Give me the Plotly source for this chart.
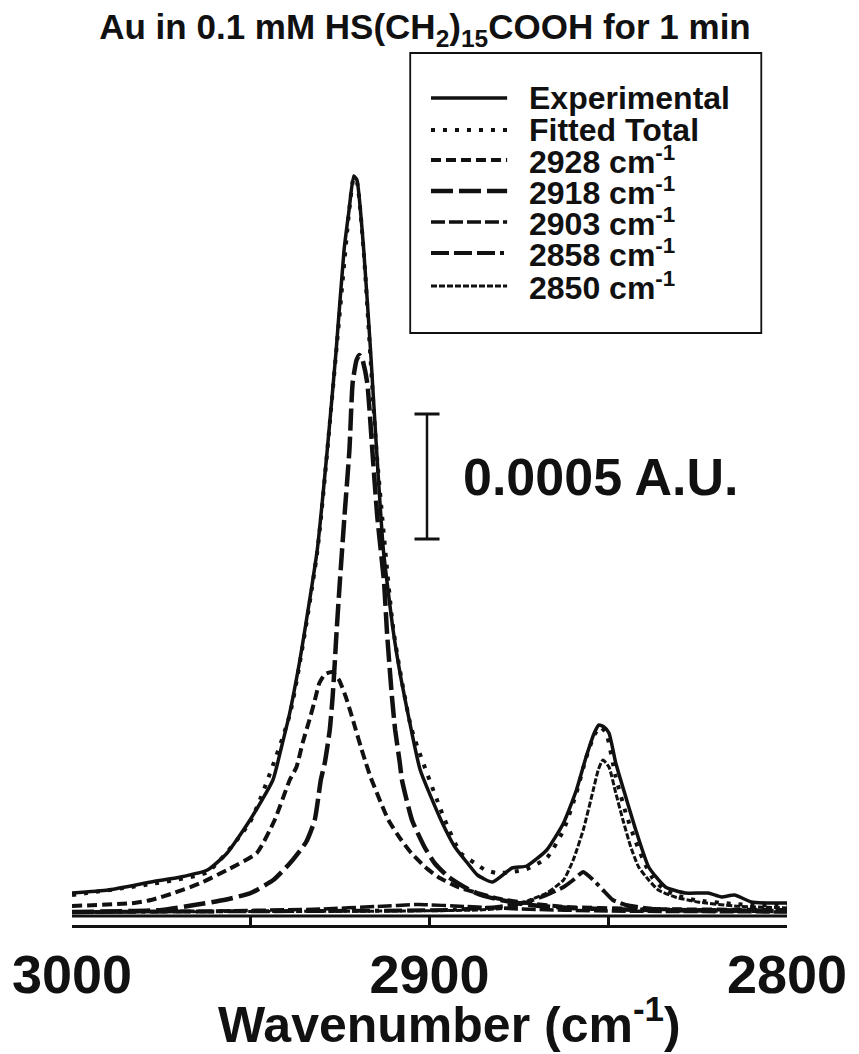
import plotly.graph_objects as go

# ---- spectra: wavenumber (cm-1) and absorbance (mAU) ----
exp_wn = [3000.0, 2989.8, 2977.9, 2969.6, 2962.1, 2956.6, 2950.2, 2943.8, 2941.4, 2939.1,
          2936.4, 2935.0, 2931.4, 2928.6, 2926.1, 2923.9, 2922.5, 2921.2, 2920.3, 2918.4,
          2916.5, 2914.8, 2912.9, 2910.1, 2907.9, 2905.1, 2902.6, 2896.8, 2892.9, 2889.4,
          2886.6, 2882.4, 2876.9, 2872.8, 2867.2, 2862.5, 2858.9, 2856.2, 2853.9, 2852.6,
          2851.2, 2849.8, 2847.9, 2845.1, 2842.3, 2838.7, 2834.0, 2828.5, 2822.1, 2818.3,
          2814.7, 2810.0, 2805.5, 2800.0]
exp_abs = [0.076, 0.088, 0.120, 0.140, 0.168, 0.236, 0.368, 0.528, 0.660, 0.796,
           0.996, 1.116, 1.448, 1.848, 2.248, 2.648, 2.808, 2.944, 2.928, 2.648,
           2.248, 1.848, 1.448, 1.120, 0.928, 0.728, 0.568, 0.368, 0.260, 0.196,
           0.148, 0.120, 0.176, 0.184, 0.248, 0.356, 0.488, 0.620, 0.716, 0.748,
           0.740, 0.716, 0.596, 0.460, 0.328, 0.180, 0.100, 0.076, 0.076, 0.060,
           0.068, 0.040, 0.036, 0.036]

fit_wn = [3000.0, 2977.9, 2962.1, 2950.2, 2939.1, 2931.4, 2926.1, 2922.5, 2921.2, 2920.3,
          2918.4, 2914.8, 2910.1, 2905.1, 2895.7, 2891.3, 2887.4, 2884.4, 2881.1, 2876.9,
          2872.8, 2867.2, 2862.5, 2858.9, 2856.2, 2853.9, 2852.3, 2850.6, 2847.9, 2845.1,
          2842.3, 2839.6, 2837.6, 2834.9, 2831.3, 2825.7, 2814.7, 2800.0]
fit_abs = [0.068, 0.112, 0.160, 0.360, 0.788, 1.440, 2.240, 2.800, 2.936, 2.920,
           2.640, 1.840, 1.128, 0.736, 0.368, 0.236, 0.196, 0.168, 0.156, 0.160,
           0.172, 0.216, 0.328, 0.476, 0.616, 0.708, 0.740, 0.716, 0.540, 0.396,
           0.280, 0.188, 0.136, 0.096, 0.068, 0.048, 0.032, 0.024]

c2928_wn = [3000.0, 2982.6, 2977.9, 2971.5, 2964.0, 2956.6, 2948.3, 2943.3, 2939.1, 2937.2,
            2935.5, 2933.6, 2932.2, 2930.8, 2929.2, 2927.2, 2925.3, 2923.4, 2922.0, 2920.6,
            2919.2, 2917.8, 2916.5, 2911.5, 2907.9, 2905.1, 2901.2, 2897.6, 2892.1, 2886.6,
            2880.2, 2872.8, 2861.7, 2839.6, 2800.0]
c2928_abs = [0.024, 0.036, 0.048, 0.076, 0.116, 0.168, 0.236, 0.368, 0.528, 0.580,
             0.676, 0.768, 0.840, 0.916, 0.952, 0.960, 0.928, 0.860, 0.796, 0.728,
             0.660, 0.596, 0.540, 0.368, 0.288, 0.236, 0.180, 0.140, 0.100, 0.076,
             0.052, 0.036, 0.020, 0.012, 0.008]

c2918_wn = [3000.0, 2974.9, 2965.8, 2957.5, 2950.0, 2943.7, 2939.0, 2934.5, 2932.1, 2930.4,
            2929.3, 2927.9, 2927.1, 2926.5, 2926.0, 2925.1, 2923.8, 2922.4, 2921.5, 2920.4,
            2919.6, 2918.8, 2917.4, 2916.0, 2914.6, 2912.7, 2911.9, 2910.5, 2909.6, 2908.3,
            2907.7, 2904.9, 2901.4, 2898.6, 2894.7, 2890.3, 2885.6, 2880.1, 2871.8, 2860.7,
            2838.6, 2800.0]
c2918_abs = [0.000, 0.008, 0.028, 0.048, 0.076, 0.128, 0.196, 0.280, 0.368, 0.528,
             0.596, 0.728, 0.860, 0.996, 1.120, 1.316, 1.580, 1.848, 2.116, 2.208,
             2.228, 2.212, 2.116, 1.848, 1.580, 1.316, 1.120, 0.860, 0.728, 0.596,
             0.528, 0.368, 0.260, 0.196, 0.140, 0.100, 0.068, 0.048, 0.028, 0.016,
             0.008, 0.004]

c2903_wn = [3000.0, 2960.0, 2930.0, 2915.0, 2903.0, 2890.0, 2875.0, 2850.0, 2800.0]
c2903_abs = [0.000, 0.004, 0.012, 0.022, 0.030, 0.022, 0.012, 0.004, 0.000]

c2858_wn = [3000.0, 2936.4, 2894.9, 2881.1, 2872.8, 2867.2, 2862.5, 2859.8, 2857.0, 2854.2,
            2851.5, 2848.7, 2845.1, 2836.8, 2800.0]
c2858_abs = [0.000, 0.004, 0.008, 0.020, 0.040, 0.068, 0.100, 0.128, 0.160, 0.128,
             0.088, 0.048, 0.028, 0.012, 0.004]

c2850_wn = [3000.0, 2908.7, 2886.6, 2876.3, 2871.9, 2867.2, 2862.5, 2859.8, 2857.0, 2854.2,
            2852.8, 2851.5, 2849.8, 2847.9, 2845.9, 2843.7, 2841.5, 2838.7, 2836.0, 2831.3,
            2824.9, 2814.7, 2800.0]
c2850_abs = [0.000, 0.004, 0.008, 0.020, 0.048, 0.076, 0.128, 0.208, 0.328, 0.488,
             0.568, 0.608, 0.580, 0.476, 0.368, 0.260, 0.180, 0.128, 0.088, 0.060,
             0.040, 0.024, 0.016]

tick_vals = [3000, 2950, 2900, 2850, 2800]
tick_text = ["3000", "", "2900", "", "2800"]

SCALE_BAR_AU = 0.0005          # length of the vertical scale bar
SCALE_BAR_X = 2900.7           # wavenumber where the bar stands
SCALE_BAR_Y0 = 1.492           # lower end of the bar (mAU)

# ---- layout geometry (pixels) ----
W, H = 859, 1054
ML, MR, MT, MB = 70, 66, 50, 129
PW, PH = W - ML - MR, H - MT - MB
Y_RANGE = [-0.052, 3.448]

def px_x(p):
    return (p - ML) / PW

def px_y(p):
    return (H - MB - p) / PH

FONT = "Liberation Sans, Arial, Helvetica, sans-serif"
INK = "#111111"

series = [
    ("Experimental", exp_wn, exp_abs, "solid", 3.5),
    ("Fitted Total", fit_wn, fit_abs, "4px,8px", 4),
    ("2928 cm<sup>-1</sup>", c2928_wn, c2928_abs, "10px,5px", 4),
    ("2918 cm<sup>-1</sup>", c2918_wn, c2918_abs, "22px,6px", 4.5),
    ("2903 cm<sup>-1</sup>", c2903_wn, c2903_abs, "14px,4px", 3.5),
    ("2858 cm<sup>-1</sup>", c2858_wn, c2858_abs, "18px,5px,18px,5px,18px,5px,4px,5px", 4),
    ("2850 cm<sup>-1</sup>", c2850_wn, c2850_abs, "6px,2px", 3),
]

fig = go.Figure()
for name, xs, ys, dash, width in series:
    fig.add_trace(go.Scatter(
        x=xs, y=ys, mode="lines", name=name, showlegend=False,
        line=dict(color=INK, width=width, dash=dash, shape="spline", smoothing=0.5),
    ))

shapes = []
annotations = []

# legend box drawn by hand
shapes.append(dict(type="rect", xref="paper", yref="paper",
                   x0=px_x(412), x1=px_x(767), y0=px_y(333), y1=px_y(53),
                   line=dict(color=INK, width=1.8)))
row_y = [98, 130, 160, 191, 222, 253, 286]
for (name, _, _, dash, width), ry in zip(series, row_y):
    shapes.append(dict(type="line", xref="paper", yref="paper",
                       x0=px_x(433), x1=px_x(510), y0=px_y(ry), y1=px_y(ry),
                       line=dict(color=INK, width=width, dash=dash)))
    annotations.append(dict(text=name, xref="paper", yref="paper",
                            x=px_x(530), y=px_y(ry), xanchor="left", yanchor="middle",
                            showarrow=False,
                            font=dict(family=FONT, size=32, color=INK, weight="bold")))

# scale bar in data units
cap = 3.5
sb_y1 = SCALE_BAR_Y0 + SCALE_BAR_AU * 1000
shapes += [
    dict(type="line", xref="x", yref="y", x0=SCALE_BAR_X, x1=SCALE_BAR_X,
         y0=SCALE_BAR_Y0, y1=sb_y1, line=dict(color=INK, width=2.5)),
    dict(type="line", xref="x", yref="y", x0=SCALE_BAR_X + cap, x1=SCALE_BAR_X - cap,
         y0=SCALE_BAR_Y0, y1=SCALE_BAR_Y0, line=dict(color=INK, width=3)),
    dict(type="line", xref="x", yref="y", x0=SCALE_BAR_X + cap, x1=SCALE_BAR_X - cap,
         y0=sb_y1, y1=sb_y1, line=dict(color=INK, width=3)),
]
annotations.append(dict(text="0.0005 A.U.", xref="x", yref="y",
                        x=SCALE_BAR_X - 9.4, y=(SCALE_BAR_Y0 + sb_y1) / 2,
                        xanchor="left", yanchor="middle", showarrow=False,
                        font=dict(family=FONT, size=52, color=INK, weight="bold")))

# inner rail of the x-axis bar
shapes.append(dict(type="line", xref="x", yref="paper", x0=3000, x1=2800,
                   y0=px_y(916), y1=px_y(916), line=dict(color=INK, width=3)))

# axis title
annotations.append(dict(text="Wavenumber (cm<sup>-1</sup>)", xref="paper", yref="paper",
                        x=px_x(452), y=px_y(1021), xanchor="center", yanchor="middle",
                        showarrow=False,
                        font=dict(family=FONT, size=50, color=INK, weight="bold")))

fig.update_layout(
    width=W, height=H,
    margin=dict(l=ML, r=MR, t=MT, b=MB, pad=0),
    paper_bgcolor="white", plot_bgcolor="white",
    title=dict(text="Au in 0.1 mM HS(CH<sub>2</sub>)<sub>15</sub>COOH for 1 min",
               x=425 / W, xanchor="center", y=1 - 27 / H, yanchor="middle",
               font=dict(family=FONT, size=35, color=INK, weight="bold")),
    xaxis=dict(range=[3000, 2800], showgrid=False, zeroline=False,
               showline=True, linecolor=INK, linewidth=2.5,
               ticks="inside", ticklen=9, tickwidth=2.5, tickcolor=INK,
               tickvals=tick_vals, ticktext=tick_text, ticklabelstandoff=0,
               tickfont=dict(family=FONT, size=54, color=INK, weight="bold")),
    yaxis=dict(range=Y_RANGE, visible=False),
    shapes=shapes, annotations=annotations,
)

fig.write_html("out.html")
